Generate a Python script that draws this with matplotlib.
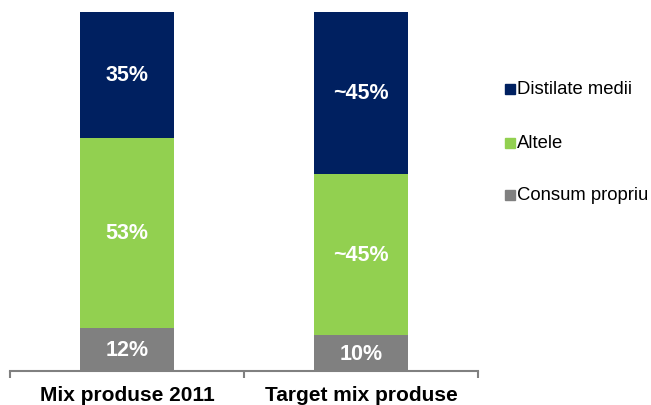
import matplotlib
matplotlib.use("Agg")
import matplotlib.pyplot as plt

categories = ["Mix produse 2011", "Target mix produse"]
series_names = ["Consum propriu", "Altele", "Distilate medii"]
consum = [12, 10]
altele = [53, 45]
distilate = [35, 45]
labels_consum = ["12%", "10%"]
labels_altele = ["53%", "~45%"]
labels_distilate = ["35%", "~45%"]
colors = ["#808080", "#92D050", "#002060"]

plt.rcParams['font.family'] = ['Liberation Sans', 'DejaVu Sans']

fig = plt.figure(figsize=(6.51, 4.06), dpi=100)
W, H = 651, 406
ax = fig.add_axes([10 / W, 1 - 372 / H, 468 / W, 359 / H])

x = list(range(len(categories)))
data = [consum, altele, distilate]
labs = [labels_consum, labels_altele, labels_distilate]
bottom = [0, 0]
for vals, lab, c, name in zip(data, labs, colors, series_names):
    ax.bar(x, vals, width=0.4, bottom=bottom, color=c, label=name)
    for xi, v, bt, t in zip(x, vals, bottom, lab):
        ax.text(xi, bt + v / 2, t, ha="center", va="center", color="white",
                fontsize=15.5, fontweight="bold")
    bottom = [bb + v for bb, v in zip(bottom, vals)]

ax.set_xlim(-0.5, 1.5)
ax.set_ylim(0, 100)
for s in ["top", "right", "left"]:
    ax.spines[s].set_visible(False)
ax.spines["bottom"].set_color("#808080")
ax.spines["bottom"].set_linewidth(1.5)
ax.set_yticks([])
ax.set_xticks([-0.5, 0.5, 1.5])
ax.set_xticklabels([])
ax.tick_params(axis="x", direction="out", length=5, width=1.5, color="#808080")
for xi, c in zip(x, categories):
    ax.text(xi, 0, c, ha="center", va="baseline", fontsize=15, fontweight="bold",
            transform=ax.get_xaxis_transform() + matplotlib.transforms.ScaledTranslation(0, -29 / 100, fig.dpi_scale_trans),
            clip_on=False)

# legend
leg_items = [("Distilate medii", colors[2], 90), ("Altele", colors[1], 144),
             ("Consum propriu", colors[0], 196)]
for name, c, yp in leg_items:
    fig.patches.append(plt.Rectangle((505 / W, 1 - (yp + 5) / H), 10 / W, 10 / H,
                                     transform=fig.transFigure, color=c))
    fig.text(517 / W, 1 - yp / H, name, fontsize=13.3, va="center", ha="left")

fig.savefig("out.png", dpi=100)
